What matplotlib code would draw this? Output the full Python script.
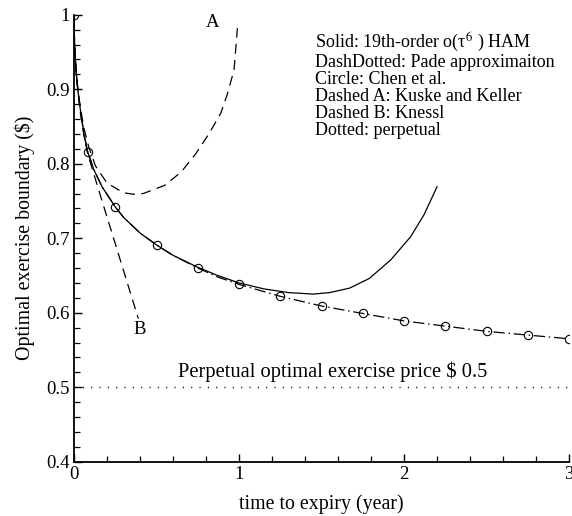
import matplotlib
matplotlib.use("Agg")
import matplotlib.pyplot as plt
from matplotlib.ticker import MultipleLocator, FixedLocator, FixedFormatter

plt.rcParams['font.family'] = ['Liberation Serif', 'DejaVu Serif']
plt.rcParams['mathtext.fontset'] = 'stix'

# Chen et al. (circles)
t_chen = [0.0, 1/12, 0.25, 0.5, 0.75, 1.0, 1.25, 1.5, 1.75, 2.0, 2.25, 2.5, 2.75, 3.0]
b_chen = [1.0, 0.816, 0.742, 0.691, 0.660, 0.638, 0.622, 0.609, 0.599, 0.589, 0.582, 0.575, 0.570, 0.565]

# Pade approximation (dash-dotted)
t_pade = [0.0, 0.003, 0.008, 0.015, 0.025, 0.04, 0.06, 0.083, 0.12, 0.17, 0.25, 0.3, 0.4, 0.5, 0.6, 0.75,
          0.87, 1.0, 1.25, 1.5, 1.75, 2.0, 2.25, 2.5, 2.75, 3.0]
b_pade = [1.0, 0.962, 0.940, 0.918, 0.895, 0.870, 0.840, 0.816, 0.792, 0.769, 0.742, 0.728, 0.707, 0.691, 0.677, 0.660,
          0.648, 0.638, 0.622, 0.609, 0.599, 0.589, 0.582, 0.575, 0.570, 0.565]

# 19th-order HAM (solid)
t_ham = [0.0, 0.003, 0.008, 0.015, 0.025, 0.04, 0.06, 0.083, 0.12, 0.17, 0.25, 0.3, 0.4, 0.5, 0.6, 0.75,
         0.87, 1.0, 1.15, 1.3, 1.45, 1.55, 1.67, 1.79, 1.92, 2.04, 2.12, 2.2]
b_ham = [1.0, 0.962, 0.940, 0.918, 0.895, 0.870, 0.840, 0.816, 0.792, 0.769, 0.742, 0.728, 0.707, 0.691, 0.677, 0.661,
         0.650, 0.640, 0.632, 0.627, 0.625, 0.627, 0.633, 0.646, 0.671, 0.702, 0.731, 0.769]

# Kuske and Keller (dashed A)
t_a = [0.0, 0.003, 0.008, 0.015, 0.025, 0.04, 0.06, 0.09, 0.13, 0.2, 0.3, 0.36, 0.42, 0.55, 0.65,
       0.74, 0.82, 0.89, 0.93, 0.97, 0.99]
b_a = [1.0, 0.962, 0.940, 0.918, 0.897, 0.873, 0.848, 0.822, 0.797, 0.774, 0.761, 0.759, 0.760, 0.771, 0.789,
       0.814, 0.841, 0.868, 0.894, 0.926, 0.982]

# Knessl (dashed B)
t_b = [0.0, 0.003, 0.008, 0.015, 0.025, 0.04, 0.06, 0.083, 0.17, 0.28, 0.39]
b_b = [1.0, 0.962, 0.940, 0.918, 0.894, 0.866, 0.838, 0.813, 0.750, 0.671, 0.592]

# Perpetual (dotted)
t_perp = [0.0, 3.0]
b_perp = [0.5, 0.5]

legend_lines = ["Solid: 19th-order o(τ$^{6}$ ) HAM",
                "DashDotted: Pade approximaiton",
                "Circle: Chen et al.",
                "Dashed A: Kuske and Keller",
                "Dashed B: Knessl",
                "Dotted: perpetual"]

fig = plt.figure(figsize=(5.72, 5.16), dpi=100)
ax = fig.add_axes([0.1294, 0.1052, 0.8654, 0.8663])

ax.plot(t_pade, b_pade, color='black', lw=0.9, dashes=[9, 3, 1.2, 3])
ax.plot(t_ham, b_ham, color='black', lw=0.9)
ax.plot(t_a, b_a, color='black', lw=0.9, dashes=[8, 5])
ax.plot(t_b, b_b, color='black', lw=0.9, dashes=[8, 5])
ax.plot(t_perp, b_perp, color='black', lw=1.0, dashes=[0.8, 5.2])
ax.plot(t_chen, b_chen, linestyle='none', marker='o', markersize=6, markerfacecolor='none',
        markeredgecolor='black', markeredgewidth=0.8)

ax.set_xlim(0, 3)
ax.set_ylim(0.4, 1.0)

ax.spines['top'].set_visible(False)
ax.spines['right'].set_visible(False)
ax.spines['left'].set_linewidth(1.3)
ax.spines['bottom'].set_linewidth(1.3)

ax.xaxis.set_major_locator(FixedLocator([0, 1, 2, 3]))
ax.xaxis.set_major_formatter(FixedFormatter(["0", "1", "2", "3"]))
ax.xaxis.set_minor_locator(MultipleLocator(0.2))
yt = [0.4, 0.5, 0.6, 0.7, 0.8, 0.9, 1.0]
ax.yaxis.set_major_locator(FixedLocator(yt))
ax.yaxis.set_major_formatter(FixedFormatter(["0.4", "0.5", "0.6", "0.7", "0.8", "0.9", "1"]))
ax.yaxis.set_minor_locator(MultipleLocator(0.02))
ax.tick_params(which='major', direction='in', length=6, width=1.0, labelsize=13.5, pad=3)
ax.tick_params(which='minor', direction='in', length=4.5, width=0.9)

ax.set_xlabel("time to expiry (year)", fontsize=14.3, labelpad=8)
ax.set_ylabel("Optimal exercise boundary ($)", fontsize=14.3, labelpad=8)

ax.text(1.46, 0.978, "\n".join(legend_lines), fontsize=13, va='top', ha='left', linespacing=1.0,
        transform=ax.transData)
ax.text(0.84, 0.99, "A", fontsize=13.5, ha='center', va='center')
ax.text(0.40, 0.577, "B", fontsize=13.5, ha='center', va='center')
ax.text(1.57, 0.521, "Perpetual optimal exercise price $ 0.5", fontsize=14.8, ha='center', va='center')

fig.savefig("out.png", dpi=100)
